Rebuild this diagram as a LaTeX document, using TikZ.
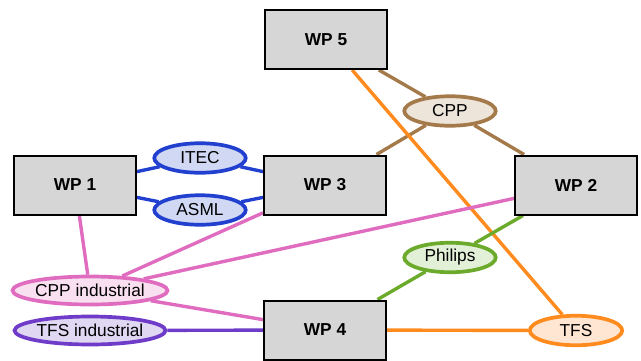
\documentclass[tikz,border=0pt]{standalone}
\usepackage{fontspec}
\setmainfont{Liberation Sans}
\usetikzlibrary{shapes.geometric}
\pgfdeclarelayer{bg}
\pgfsetlayers{bg,main}
\definecolor{bluS}{HTML}{2240D0}\definecolor{bluF}{HTML}{D0D8F4}
\definecolor{broS}{HTML}{A57A4A}\definecolor{broF}{HTML}{EDE4DA}
\definecolor{oraS}{HTML}{FF8A1E}\definecolor{oraF}{HTML}{FEE6D2}
\definecolor{greS}{HTML}{6BAA2A}\definecolor{greF}{HTML}{E3F0D8}
\definecolor{pinS}{HTML}{E06CC0}\definecolor{pinF}{HTML}{F8E0F0}
\definecolor{purS}{HTML}{6E3CC8}\definecolor{purF}{HTML}{E0D8F2}
\definecolor{boxF}{HTML}{D6D6D6}
\tikzset{
  wpbox/.style={draw=black, fill=boxF, line width=2pt, minimum width=122pt, minimum height=59pt, inner sep=0pt, font=\fontsize{17.3}{19}\selectfont\bfseries},
  partner/.style={ellipse, line width=3.7pt, inner sep=0pt, minimum height=29.5pt, font=\fontsize{17.3}{19}\selectfont},
  link/.style={line width=3.4pt}
}
\begin{document}
\begin{tikzpicture}[x=1pt,y=-1pt]
\useasboundingbox (0,0) rectangle (641,360);
\node[wpbox] (wp5) at (326,39.5) {WP 5};
\node[wpbox] (wp1) at (75,185) {WP 1};
\node[wpbox] (wp3) at (325,185) {WP 3};
\node[wpbox] (wp2) at (576,185) {WP 2};
\node[wpbox] (wp4) at (325,330) {WP 4};
\node[partner, draw=bluS, fill=bluF, minimum width=91.5pt] (itec) at (200,158) {ITEC};
\node[partner, draw=bluS, fill=bluF, minimum width=91.5pt] (asml) at (200,210) {ASML};
\node[partner, draw=broS, fill=broF, minimum width=91.5pt] (cpp) at (450,111) {CPP};
\node[partner, draw=pinS, fill=pinF, minimum width=151pt, minimum height=28pt] (cppi) at (90,290.5) {CPP industrial};
\node[partner, draw=purS, fill=purF, minimum width=151pt, minimum height=28pt] (tfsi) at (90,330.5) {TFS industrial};
\node[partner, draw=greS, fill=greF, minimum width=91.5pt] (phil) at (450,257.5) {Philips};
\node[partner, draw=oraS, fill=oraF, minimum width=92.5pt] (tfs) at (576,330.5) {TFS};
\begin{pgfonlayer}{bg}
\draw[link, bluS] (wp1) -- (itec) -- (wp3);
\draw[link, bluS] (wp1) -- (asml) -- (wp3);
\draw[link, broS] (wp5) -- (cpp) -- (wp3);
\draw[link, broS] (cpp) -- (wp2);
\draw[link, oraS] (wp5) -- (tfs);
\draw[link, oraS] (wp4) -- (tfs);
\draw[link, greS] (wp2) -- (phil) -- (wp4);
\draw[link, pinS] (wp1) -- (cppi);
\draw[link, pinS] (wp3) -- (cppi);
\draw[link, pinS] (wp2) -- (cppi);
\draw[link, pinS] (cppi) -- (wp4);
\draw[link, purS] (tfsi) -- (wp4);
\end{pgfonlayer}
\end{tikzpicture}
\end{document}
